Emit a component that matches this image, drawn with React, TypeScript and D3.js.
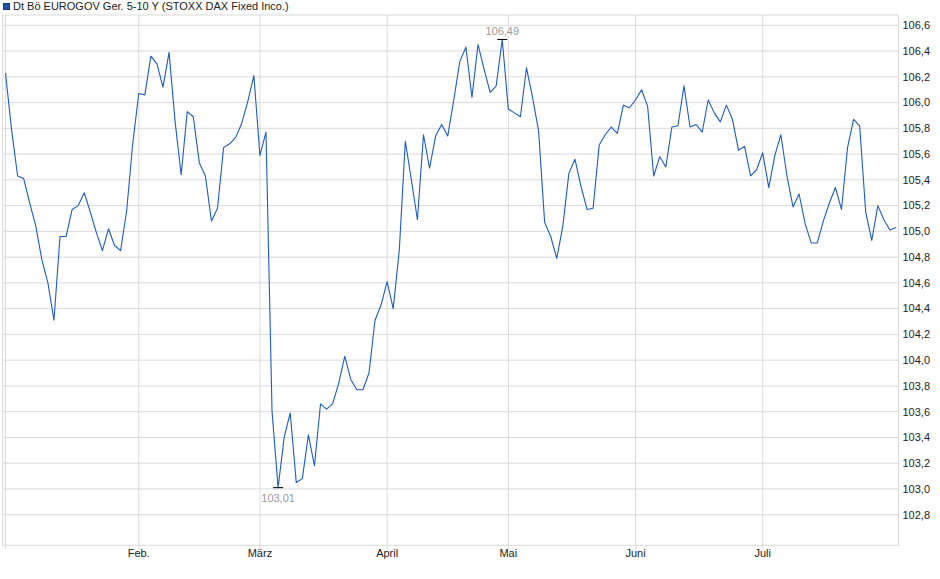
import React from "react";
import * as d3 from "d3";

const seriesName = "Dt Bö EUROGOV Ger. 5-10 Y (STOXX DAX Fixed Inco.)";

const values: number[] = [
  106.23, 105.79, 105.43, 105.41, 105.22, 105.04, 104.78, 104.6, 104.31, 104.96,
  104.96, 105.17, 105.2, 105.3, 105.15, 104.99, 104.85, 105.02, 104.89, 104.85,
  105.16, 105.68, 106.07, 106.06, 106.36, 106.3, 106.12, 106.39, 105.85, 105.44,
  105.93, 105.89, 105.53, 105.43, 105.08, 105.18, 105.65, 105.68, 105.73, 105.84,
  106.01, 106.21, 105.59, 105.77, 103.6, 103.01, 103.4, 103.59, 103.05, 103.08,
  103.42, 103.18, 103.66, 103.62, 103.66, 103.82, 104.03, 103.85, 103.77, 103.77,
  103.9, 104.31, 104.43, 104.61, 104.4, 104.85, 105.7, 105.4, 105.09, 105.75,
  105.49, 105.74, 105.83, 105.74, 106.02, 106.32, 106.43, 106.04, 106.45, 106.26,
  106.08, 106.13, 106.49, 105.95, 105.92, 105.89, 106.27, 106.04, 105.78, 105.07,
  104.96, 104.79, 105.04, 105.45, 105.56, 105.35, 105.17, 105.18, 105.67, 105.75,
  105.81, 105.76, 105.98, 105.96, 106.02, 106.1, 105.97, 105.43, 105.58, 105.5,
  105.81, 105.82, 106.13, 105.81, 105.83, 105.77, 106.02, 105.92, 105.85, 105.98,
  105.87, 105.63, 105.66, 105.43, 105.48, 105.61, 105.34, 105.59, 105.75, 105.43,
  105.19, 105.29, 105.06, 104.91, 104.91, 105.08, 105.22, 105.34, 105.17, 105.65,
  105.87, 105.82, 105.15, 104.93, 105.2, 105.09, 105.01, 105.03,
];

// index of first trading day in each month
const monthTickIndex: number[] = [0, 22, 42, 63, 83, 104, 125];
const monthTickLabel: string[] = ["", "Feb.", "März", "April", "Mai", "Juni", "Juli"];

const yTicks: number[] = d3.range(0, 20).map((i) => +(102.8 + i * 0.2).toFixed(1));

const W = 940;
const H = 579;
const frame = { left: 2.7, right: 898.5, top: 15, bottom: 545.3 };
const FONT = "'Liberation Sans', Arial, Helvetica, sans-serif";
const LINE = "#1c5bc8";
const GRID = "#dadada";

const fmt = (v: number, d: number) => v.toFixed(d).replace(".", ",");

export default function App() {
  const x = d3.scaleLinear().domain([0, values.length - 1]).range([5.5, 896]);
  const y = d3.scaleLinear().domain([102.8, 106.6]).range([514.7, 25.3]);

  const line = d3
    .line<number>()
    .x((_, i) => x(i))
    .y((d) => y(d));

  const iMax = d3.maxIndex(values);
  const iMin = d3.minIndex(values);

  return (
    <svg
      width={W}
      height={H}
      style={{ position: "absolute", left: 0, top: 0, display: "block", background: "#fff" }}
      fontFamily={FONT}
    >
      {/* legend */}
      <rect x={3.5} y={3.5} width={6} height={6} fill="#1f52b5" stroke="#1a3a78" strokeWidth={1} />
      <text x={13} y={10} fontSize={11} fill="#222">
        {seriesName}
      </text>

      {/* horizontal grid */}
      {yTicks.map((t) => (
        <line
          key={"h" + t}
          x1={frame.left}
          x2={frame.right}
          y1={y(t)}
          y2={y(t)}
          stroke={GRID}
          strokeWidth={1}
        />
      ))}
      {/* vertical grid */}
      {monthTickIndex.map((idx, k) => (
        <g key={"v" + k}>
          <line x1={x(idx)} x2={x(idx)} y1={frame.top} y2={frame.bottom} stroke={GRID} strokeWidth={1} />
          <line x1={x(idx)} x2={x(idx)} y1={frame.bottom} y2={frame.bottom + 3.5} stroke={GRID} strokeWidth={1} />
          {monthTickLabel[k] && (
            <text x={x(idx)} y={557} fontSize={11} fill="#222" textAnchor="middle">
              {monthTickLabel[k]}
            </text>
          )}
        </g>
      ))}

      {/* frame */}
      <rect
        x={frame.left}
        y={frame.top}
        width={frame.right - frame.left}
        height={frame.bottom - frame.top}
        fill="none"
        stroke={GRID}
        strokeWidth={1}
      />

      {/* y labels */}
      {yTicks.map((t) => (
        <text key={"l" + t} x={902.5} y={y(t)} dy="0.35em" fontSize={11} fill="#222">
          {fmt(t, 1)}
        </text>
      ))}

      {/* series */}
      <path d={line(values) || ""} fill="none" stroke={LINE} strokeWidth={1.1} strokeLinejoin="round" />

      {/* max marker */}
      <line x1={x(iMax) - 5} x2={x(iMax) + 5} y1={y(values[iMax])} y2={y(values[iMax])} stroke="#000" strokeWidth={1} />
      <text x={x(iMax)} y={y(values[iMax]) - 4.5} fontSize={11} fill="#9a9a9a" textAnchor="middle">
        {fmt(values[iMax], 2)}
      </text>

      {/* min marker */}
      <line x1={x(iMin) - 5} x2={x(iMin) + 5} y1={y(values[iMin])} y2={y(values[iMin])} stroke="#000" strokeWidth={1} />
      <text x={x(iMin)} y={y(values[iMin]) + 14} fontSize={11} fill="#9a9a9a" textAnchor="middle">
        {fmt(values[iMin], 2)}
      </text>
    </svg>
  );
}
